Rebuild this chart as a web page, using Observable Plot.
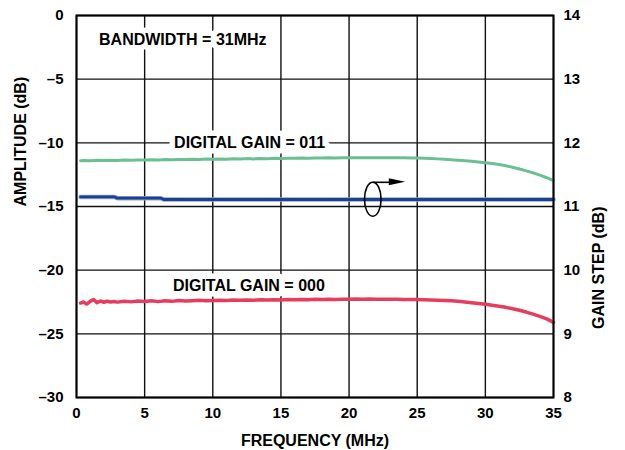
<!DOCTYPE html>
<html>
<head>
<meta charset="utf-8">
<script src="https://cdn.jsdelivr.net/npm/d3@7"></script>
<script src="https://cdn.jsdelivr.net/npm/@observablehq/plot@0.6"></script>
<style>
  html, body { margin: 0; padding: 0; background: #fff; }
</style>
</head>
<body>
<div id="chart"></div>
<script>
// ---- data ----
const xTicks = [0, 5, 10, 15, 20, 25, 30, 35];
const yTicks = [0, -5, -10, -15, -20, -25, -30];
const gainTicks = [8, 9, 10, 11, 12, 13, 14];

// DIGITAL GAIN = 011 (amplitude, dB)
const greenFreq = [0.3, 0.5, 1.0, 1.5, 2.0, 2.5, 3.0, 3.5, 4.0, 4.5, 5.0, 5.5, 6.0, 6.5, 7.0, 7.5, 8.0, 8.5, 9.0, 9.5,
  10.0, 10.5, 11.0, 11.5, 12.0, 12.5, 13.0, 13.5, 14.0, 14.5, 15.0, 15.5, 16.0, 16.5, 17.0, 17.5, 18.0, 18.5, 19.0, 19.5,
  20.0, 20.5, 21.0, 21.5, 22.0, 22.5, 23.0, 23.5, 24.0, 24.5, 25.0, 25.5, 26.0, 26.5, 27.0, 27.5, 28.0, 28.5, 29.0, 29.5,
  30.0, 30.5, 31.0, 31.5, 32.0, 32.5, 33.0, 33.5, 34.0, 34.5, 35.0];
const greenAmp = [-11.40, -11.38, -11.41, -11.37, -11.39, -11.36, -11.38, -11.35, -11.37, -11.34, -11.35, -11.33, -11.34, -11.31, -11.33, -11.30, -11.31, -11.28, -11.30, -11.27,
  -11.29, -11.27, -11.28, -11.25, -11.27, -11.24, -11.26, -11.24, -11.25, -11.22, -11.24, -11.21, -11.22, -11.20, -11.21, -11.19, -11.20, -11.18, -11.19, -11.18,
  -11.18, -11.17, -11.18, -11.17, -11.17, -11.18, -11.17, -11.18, -11.18, -11.19, -11.20, -11.21, -11.23, -11.26, -11.29, -11.32, -11.36, -11.40, -11.45, -11.50,
  -11.56, -11.63, -11.71, -11.80, -11.92, -12.05, -12.20, -12.36, -12.54, -12.74, -12.96];

// DIGITAL GAIN = 000 (amplitude, dB)
const redFreq = [0.3, 0.5, 0.75, 1.0, 1.25, 1.5, 1.75, 2.0, 2.25, 2.5, 2.75, 3.0, 3.5, 4.0, 4.5, 5.0, 5.5, 6.0, 6.5, 7.0,
  7.5, 8.0, 8.5, 9.0, 9.5, 10.0, 10.5, 11.0, 11.5, 12.0, 12.5, 13.0, 13.5, 14.0, 14.5, 15.0, 15.5, 16.0, 16.5, 17.0,
  17.5, 18.0, 18.5, 19.0, 19.5, 20.0, 20.5, 21.0, 21.5, 22.0, 22.5, 23.0, 23.5, 24.0, 24.5, 25.0, 25.5, 26.0, 26.5, 27.0,
  27.5, 28.0, 28.5, 29.0, 29.5, 30.0, 30.5, 31.0, 31.5, 32.0, 32.5, 33.0, 33.5, 34.0, 34.5, 35.0];
const redAmp = [-22.58, -22.50, -22.66, -22.45, -22.30, -22.55, -22.42, -22.52, -22.44, -22.50, -22.46, -22.51, -22.45, -22.49, -22.43, -22.46, -22.41, -22.47, -22.40, -22.45,
  -22.38, -22.43, -22.40, -22.37, -22.41, -22.38, -22.36, -22.39, -22.35, -22.37, -22.34, -22.36, -22.33, -22.35, -22.32, -22.34, -22.31, -22.33, -22.30, -22.32,
  -22.29, -22.31, -22.28, -22.30, -22.28, -22.29, -22.27, -22.29, -22.27, -22.28, -22.29, -22.28, -22.29, -22.30, -22.30, -22.31, -22.32, -22.34, -22.36, -22.38,
  -22.41, -22.45, -22.50, -22.55, -22.61, -22.67, -22.75, -22.83, -22.92, -23.03, -23.15, -23.29, -23.45, -23.63, -23.83, -24.10];

// Gain step (right axis, dB)
const blueFreq = [0.3, 2.8, 3.0, 6.2, 6.4, 35.0];
const blueGain = [11.15, 11.15, 11.13, 11.13, 11.11, 11.11];

// annotation texts and anchors (data units)
const labelText = ["BANDWIDTH = 31MHz", "DIGITAL GAIN = 011", "DIGITAL GAIN = 000"];
const labelX = [7.8, 12.7, 12.65];
const labelY = [-1.9, -10.0, -21.27];
const ellipseAt = [{x: 21.74, y: -14.43}];
const arrowFrom = {x: 21.74, y: -13.1};
const arrowBase = {x: 22.95};
const arrowTip = {x: 24.15};

// ---- build tables ----
const gainToAmp = g => (g - 14) * 5;
const green = greenFreq.map((f, i) => ({f, v: greenAmp[i]}));
const red = redFreq.map((f, i) => ({f, v: redAmp[i]}));
const blue = blueFreq.map((f, i) => ({f, v: gainToAmp(blueGain[i])}));
const labels = labelText.map((t, i) => ({t, x: labelX[i], y: labelY[i]}));

const dashFmt = d => d < 0 ? "\u2013" + Math.abs(d) : String(d);

// custom ellipse symbol (rx, ry in px) drawn with bezier curves
const ellipseSymbol = {
  draw(ctx) {
    const rx = 8.3, ry = 17, k = 0.5523;
    ctx.moveTo(rx, 0);
    ctx.bezierCurveTo(rx, ry * k, rx * k, ry, 0, ry);
    ctx.bezierCurveTo(-rx * k, ry, -rx, ry * k, -rx, 0);
    ctx.bezierCurveTo(-rx, -ry * k, -rx * k, -ry, 0, -ry);
    ctx.bezierCurveTo(rx * k, -ry, rx, -ry * k, rx, 0);
    ctx.closePath();
  }
};
const triHalf = 0.28; // dB, half-height of arrowhead
const arrowHead = [
  {x: arrowBase.x, y1: arrowFrom.y - triHalf, y2: arrowFrom.y + triHalf},
  {x: arrowTip.x, y1: arrowFrom.y, y2: arrowFrom.y}
];

const chart = Plot.plot({
  width: 625,
  height: 450,
  marginLeft: 76,
  marginRight: 72,
  marginTop: 15,
  marginBottom: 53,
  x: {domain: [0, 35]},
  y: {domain: [-30, 0]},
  style: {
    fontFamily: "'Liberation Sans', Arial, Helvetica, sans-serif",
    fontWeight: "bold",
    fontSize: "15px",
    color: "black",
    background: "white",
    overflow: "visible"
  },
  marks: [
    Plot.gridX(xTicks, {stroke: "#111", strokeOpacity: 1, strokeWidth: 1.4}),
    Plot.gridY(yTicks, {stroke: "#111", strokeOpacity: 1, strokeWidth: 1.4}),
    Plot.text(labels, {x: "x", y: "y", text: "t", fontSize: 16, fontWeight: "bold", fill: "black",
      stroke: "white", strokeWidth: 11, strokeLinejoin: "round"}),
    Plot.line(green, {x: "f", y: "v", stroke: "#6cbf92", strokeWidth: 3}),
    Plot.line(red, {x: "f", y: "v", stroke: "#e63c5e", strokeWidth: 3.5}),
    Plot.line(blue, {x: "f", y: "v", stroke: "#8ea9d8", strokeWidth: 4.5}),
    Plot.line(blue, {x: "f", y: "v", stroke: "#1d3f8e", strokeWidth: 2.8}),
    Plot.dot(ellipseAt, {x: "x", y: "y", symbol: ellipseSymbol, stroke: "black", strokeWidth: 1.6, fill: "none"}),
    Plot.link([arrowFrom], {x1: "x", y1: "y", x2: () => arrowBase.x, y2: "y", stroke: "black", strokeWidth: 1.6}),
    Plot.areaY(arrowHead, {x: "x", y1: "y1", y2: "y2", fill: "black"}),
    Plot.frame({stroke: "black", strokeWidth: 2}),
    Plot.axisX(xTicks, {tickSize: 0, tickPadding: 10, label: null, fontSize: 15}),
    Plot.axisY(yTicks, {anchor: "left", tickSize: 0, tickPadding: 13, tickFormat: dashFmt, label: null, fontSize: 15}),
    Plot.axisY(gainTicks.map(gainToAmp), {anchor: "right", tickSize: 0, tickPadding: 10,
      tickFormat: d => String(14 + d / 5), label: null, fontSize: 15}),
    Plot.text(["FREQUENCY (MHz)"], {frameAnchor: "bottom", text: d => d, dy: 43, lineAnchor: "middle", fontSize: 16, fontWeight: "bold"}),
    Plot.text(["AMPLITUDE (dB)"], {frameAnchor: "left", text: d => d, dx: -56, rotate: -90, lineAnchor: "middle", fontSize: 16, fontWeight: "bold"}),
    Plot.text(["GAIN STEP (dB)"], {frameAnchor: "right", text: d => d, dx: 45, rotate: -90, lineAnchor: "middle", fontSize: 16, fontWeight: "bold"})
  ]
});
document.getElementById("chart").appendChild(chart);
</script>
</body>
</html>
